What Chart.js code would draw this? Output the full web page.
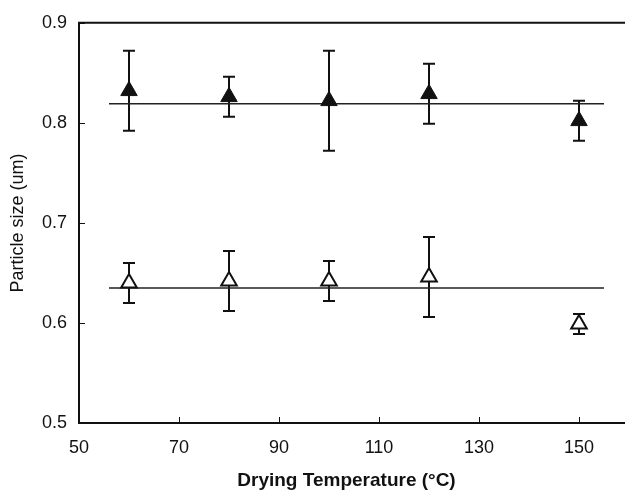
<!DOCTYPE html>
<html>
<head>
<meta charset="utf-8">
<script src="https://cdn.jsdelivr.net/npm/chart.js@4/dist/chart.umd.min.js"></script>
<style>
  html, body { margin: 0; padding: 0; background: #fff; }
  #wrap { width: 625px; height: 490px; }
</style>
</head>
<body>
<div id="wrap"><canvas id="sizeChart"></canvas></div>
<script>
// ─── Data ────────────────────────────────────────────────
const temps      = [60, 80, 100, 120, 150];
const sizeFilled = [0.832, 0.826, 0.822, 0.829, 0.802];
const errFilled  = [0.040, 0.020, 0.050, 0.030, 0.020];
const sizeOpen   = [0.640, 0.642, 0.642, 0.646, 0.599];
const errOpen    = [0.020, 0.030, 0.020, 0.040, 0.010];
const meanX      = [56, 155];
const meanFilled = [0.819, 0.819];
const meanOpen   = [0.635, 0.635];
const xTicks     = [50, 70, 90, 110, 130, 150];
const yTicks     = [0.5, 0.6, 0.7, 0.8, 0.9];

const INK = '#111';
const FONT = 'Liberation Sans, Arial, sans-serif';

const pts = (xs, ys) => xs.map((x, i) => ({ x: x, y: ys[i] }));

// error bars under the markers, frame + inward ticks on top
const errorBars = {
    id: 'errorBars',
    beforeDatasetsDraw(chart) {
        const { ctx, scales: { x, y } } = chart;
        ctx.save();
        ctx.strokeStyle = INK;
        ctx.lineWidth = 2;
        [[sizeFilled, errFilled], [sizeOpen, errOpen]].forEach(([vals, errs]) => {
            temps.forEach((t, i) => {
                const px = Math.round(x.getPixelForValue(t));
                const top = y.getPixelForValue(vals[i] + errs[i]);
                const bot = y.getPixelForValue(vals[i] - errs[i]);
                ctx.beginPath();
                ctx.moveTo(px, top); ctx.lineTo(px, bot);
                ctx.moveTo(px - 6, top); ctx.lineTo(px + 6, top);
                ctx.moveTo(px - 6, bot); ctx.lineTo(px + 6, bot);
                ctx.stroke();
            });
        });
        ctx.restore();
    },
    afterDraw(chart) {
        const { ctx, chartArea: a, scales: { x, y } } = chart;
        ctx.save();
        ctx.strokeStyle = INK;
        ctx.lineWidth = 2;
        ctx.beginPath();
        // frame runs off the right edge of the figure
        ctx.moveTo(a.left - 1, a.top); ctx.lineTo(chart.width, a.top);
        ctx.moveTo(a.right - 1, a.bottom); ctx.lineTo(chart.width, a.bottom);
        ctx.stroke();
        ctx.lineWidth = 1;
        ctx.beginPath();
        xTicks.forEach(v => {
            const px = Math.round(x.getPixelForValue(v)) + 0.5;
            ctx.moveTo(px, a.bottom); ctx.lineTo(px, a.bottom - 6);
        });
        yTicks.forEach(v => {
            const py = Math.round(y.getPixelForValue(v)) + 0.5;
            ctx.moveTo(a.left, py); ctx.lineTo(a.left + 6, py);
        });
        ctx.stroke();
        ctx.restore();
    }
};

new Chart(document.getElementById('sizeChart'), {
    type: 'scatter',
    data: {
        datasets: [
            {
                data: pts(temps, sizeFilled),
                pointStyle: 'triangle',
                pointRadius: 9.5,
                backgroundColor: INK,
                borderColor: INK,
                borderWidth: 1
            },
            {
                data: pts(temps, sizeOpen),
                pointStyle: 'triangle',
                pointRadius: 9,
                backgroundColor: '#fff',
                borderColor: INK,
                borderWidth: 2
            },
            {
                type: 'line',
                data: pts(meanX, meanFilled),
                borderColor: '#222',
                borderWidth: 1.5,
                pointRadius: 0
            },
            {
                type: 'line',
                data: pts(meanX, meanOpen),
                borderColor: '#222',
                borderWidth: 1.5,
                pointRadius: 0
            }
        ]
    },
    options: {
        responsive: true,
        maintainAspectRatio: false,
        animation: false,
        layout: { padding: { top: 20, left: 0, right: 0, bottom: 0 } },
        plugins: { legend: { display: false }, tooltip: { enabled: false } },
        scales: {
            x: {
                type: 'linear',
                min: 50,
                max: 157,
                afterBuildTicks: s => { s.ticks = xTicks.map(v => ({ value: v })); },
                afterFit: s => { s.height = 67; },
                grid: { display: false, drawTicks: false },
                border: { display: true, color: INK, width: 2 },
                ticks: {
                    autoSkip: false,
                    maxRotation: 0,
                    padding: 14,
                    color: INK,
                    font: { family: FONT, size: 18 }
                },
                title: {
                    display: true,
                    text: 'Drying Temperature (°C)',
                    color: INK,
                    font: { family: FONT, size: 19, weight: 'bold' },
                    padding: { top: 0, bottom: -2 }
                }
            },
            y: {
                min: 0.5,
                max: 0.9,
                afterBuildTicks: s => { s.ticks = yTicks.map(v => ({ value: v })); },
                afterFit: s => { s.width = 79; },
                grid: { display: false, drawTicks: false },
                border: { display: true, color: INK, width: 2 },
                ticks: {
                    padding: 12,
                    color: INK,
                    font: { family: FONT, size: 18 },
                    callback: v => v.toFixed(1)
                },
                title: {
                    display: true,
                    text: 'Particle size (um)',
                    color: INK,
                    font: { family: FONT, size: 18 },
                    padding: { top: 7, bottom: 0 }
                }
            }
        }
    },
    plugins: [errorBars]
});
</script>
</body>
</html>
